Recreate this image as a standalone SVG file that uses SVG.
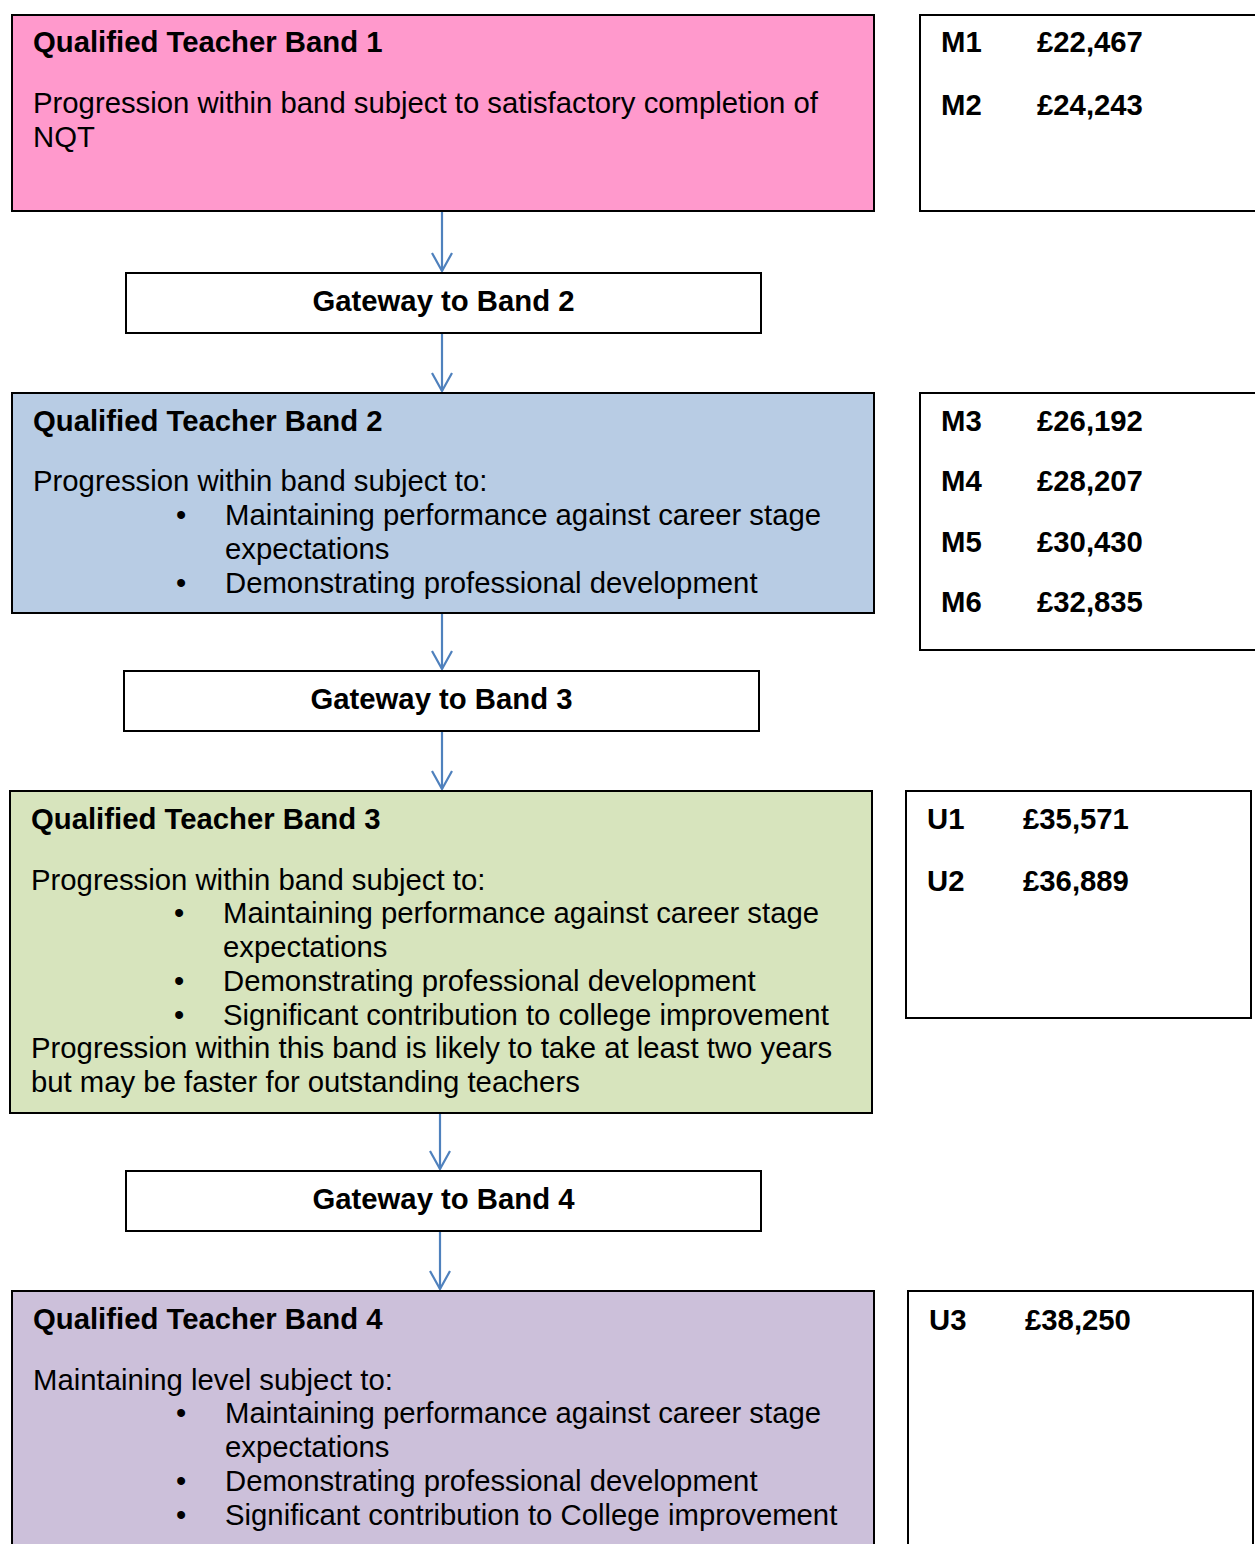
<svg xmlns="http://www.w3.org/2000/svg" width="1255" height="1544" viewBox="0 0 1255 1544">
<defs>
<style>
text{font-family:"Liberation Sans",Arial,sans-serif;font-size:29.3px;fill:#000}
.b{font-weight:bold}
.c{text-anchor:middle}
.box{stroke:#000;stroke-width:2}
.w{fill:#fff}
.conn{stroke:#4F81BD;stroke-width:2.2;fill:none}
</style>
<marker id="ah" viewBox="0 0 20 22" refX="19" refY="11" markerWidth="20" markerHeight="22" markerUnits="userSpaceOnUse" orient="auto">
<path d="M1,1 L19,11 L1,21" fill="none" stroke="#4F81BD" stroke-width="2.2"/>
</marker>
</defs>
<rect width="1255" height="1544" fill="#fff"/>
<g id="connectors">
<line class="conn" x1="442" y1="211" x2="442" y2="271" marker-end="url(#ah)"/>
<line class="conn" x1="442" y1="333" x2="442" y2="391" marker-end="url(#ah)"/>
<line class="conn" x1="442" y1="613" x2="442" y2="669" marker-end="url(#ah)"/>
<line class="conn" x1="442" y1="731" x2="442" y2="789" marker-end="url(#ah)"/>
<line class="conn" x1="440" y1="1113" x2="440" y2="1169" marker-end="url(#ah)"/>
<line class="conn" x1="440" y1="1231" x2="440" y2="1289" marker-end="url(#ah)"/>
</g>
<g id="band1">
<rect class="box" x="12" y="15" width="862" height="196" fill="#FF99CC"/>
<text class="b" x="33" y="52">Qualified Teacher Band 1</text>
<text x="33" y="113">Progression within band subject to satisfactory completion of</text>
<text x="33" y="147">NQT</text>
</g>
<g id="pay1">
<rect class="box w" x="920" y="15" width="345" height="196"/>
<text class="b" x="941" y="52">M1</text><text class="b" x="1037" y="52">£22,467</text>
<text class="b" x="941" y="115">M2</text><text class="b" x="1037" y="115">£24,243</text>
</g>
<g id="gateway2">
<rect class="box w" x="126" y="273" width="635" height="60"/>
<text class="b c" x="443.5" y="311">Gateway to Band 2</text>
</g>
<g id="band2">
<rect class="box" x="12" y="393" width="862" height="220" fill="#B8CCE4"/>
<text class="b" x="33" y="431">Qualified Teacher Band 2</text>
<text x="33" y="491">Progression within band subject to:</text>
<text x="176" y="525">•</text><text x="225" y="525">Maintaining performance against career stage</text>
<text x="225" y="559">expectations</text>
<text x="176" y="593">•</text><text x="225" y="593">Demonstrating professional development</text>
</g>
<g id="pay2">
<rect class="box w" x="920" y="393" width="345" height="257"/>
<text class="b" x="941" y="431">M3</text><text class="b" x="1037" y="431">£26,192</text>
<text class="b" x="941" y="491">M4</text><text class="b" x="1037" y="491">£28,207</text>
<text class="b" x="941" y="552">M5</text><text class="b" x="1037" y="552">£30,430</text>
<text class="b" x="941" y="612">M6</text><text class="b" x="1037" y="612">£32,835</text>
</g>
<g id="gateway3">
<rect class="box w" x="124" y="671" width="635" height="60"/>
<text class="b c" x="441.5" y="709">Gateway to Band 3</text>
</g>
<g id="band3">
<rect class="box" x="10" y="791" width="862" height="322" fill="#D7E4BD"/>
<text class="b" x="31" y="829">Qualified Teacher Band 3</text>
<text x="31" y="890">Progression within band subject to:</text>
<text x="174" y="923">•</text><text x="223" y="923">Maintaining performance against career stage</text>
<text x="223" y="957">expectations</text>
<text x="174" y="991">•</text><text x="223" y="991">Demonstrating professional development</text>
<text x="174" y="1025">•</text><text x="223" y="1025">Significant contribution to college improvement</text>
<text x="31" y="1058">Progression within this band is likely to take at least two years</text>
<text x="31" y="1092">but may be faster for outstanding teachers</text>
</g>
<g id="pay3">
<rect class="box w" x="906" y="791" width="345" height="227"/>
<text class="b" x="927" y="829">U1</text><text class="b" x="1023" y="829">£35,571</text>
<text class="b" x="927" y="891">U2</text><text class="b" x="1023" y="891">£36,889</text>
</g>
<g id="gateway4">
<rect class="box w" x="126" y="1171" width="635" height="60"/>
<text class="b c" x="443.5" y="1209">Gateway to Band 4</text>
</g>
<g id="band4">
<rect class="box" x="12" y="1291" width="862" height="280" fill="#CCC0DA"/>
<text class="b" x="33" y="1329">Qualified Teacher Band 4</text>
<text x="33" y="1390">Maintaining level subject to:</text>
<text x="176" y="1423">•</text><text x="225" y="1423">Maintaining performance against career stage</text>
<text x="225" y="1457">expectations</text>
<text x="176" y="1491">•</text><text x="225" y="1491">Demonstrating professional development</text>
<text x="176" y="1525">•</text><text x="225" y="1525">Significant contribution to College improvement</text>
</g>
<g id="pay4">
<rect class="box w" x="908" y="1291" width="345" height="280"/>
<text class="b" x="929" y="1330">U3</text><text class="b" x="1025" y="1330">£38,250</text>
</g>
</svg>
